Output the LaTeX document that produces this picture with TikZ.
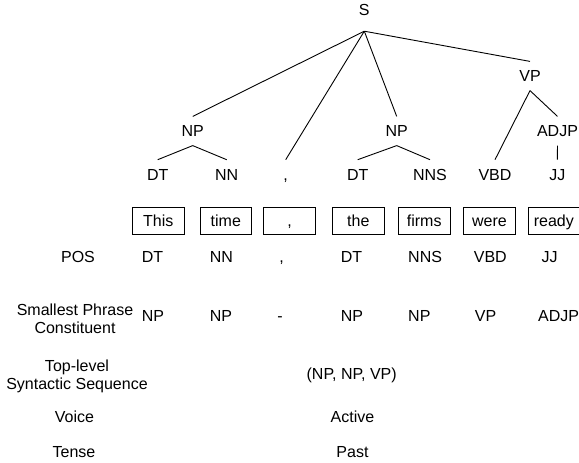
\documentclass[tikz,border=0pt]{standalone}
\usepackage{fontspec}
\setmainfont{Liberation Sans}
\begin{document}
\begin{tikzpicture}[x=1pt,y=-1pt,
  every node/.style={font=\fontsize{16}{17.7}\selectfont, inner sep=0pt},
  tn/.style={text height=11.46pt, text depth=0pt, inner xsep=1pt, inner ysep=8.67pt},
  branch/.style={line width=0.9pt},
  wordbox/.style={draw, line width=0.9pt, minimum width=51.5pt, minimum height=27.7pt, text height=11.46pt, text depth=0pt},
  val/.style={text height=11.46pt, text depth=0pt, anchor=west},
  cval/.style={text height=11.46pt, text depth=0pt},
  lab/.style={align=center}
]
\useasboundingbox (0,0) rectangle (579,463);

% parse tree
\node[tn, inner ysep=15.27pt] (S) at (364.3,10) {S};
\node[tn] (VP) at (530,76) {VP};
\node[tn] (NPa) at (192.7,131) {NP};
\node[tn] (NPb) at (396.7,131) {NP};
\node[tn] (ADJP) at (557.5,131) {ADJP};
\node[tn] (DTa) at (157.7,174.3) {DT};
\node[tn] (NN) at (226.7,174.3) {NN};
\node[tn] (CM) at (285.7,174.3) {,};
\node[tn] (DTb) at (357.7,174.3) {DT};
\node[tn] (NNS) at (430,174.3) {NNS};
\node[tn] (VBD) at (495,174.3) {VBD};
\node[tn] (JJ) at (557.3,174.3) {JJ};

\draw[branch] (S.south) -- (NPa.north);
\draw[branch] (S.south) -- (CM.north);
\draw[branch] (S.south) -- (NPb.north);
\draw[branch] (S.south) -- (VP.north);
\draw[branch] (VP.south) -- (VBD.north);
\draw[branch] (VP.south) -- (ADJP.north);
\draw[branch] (NPa.south) -- (DTa.north);
\draw[branch] (NPa.south) -- (NN.north);
\draw[branch] (NPb.south) -- (DTb.north);
\draw[branch] (NPb.south) -- (NNS.north);
\draw[branch] (ADJP.south) -- (JJ.north);

% word boxes
\node[wordbox] (w1) at (158.3,221) {This};
\node[wordbox] (w2) at (225.8,221) {time};
\node[wordbox] (w3) at (289.5,221) {,};
\node[wordbox] (w4) at (358.3,221) {the};
\node[wordbox] (w5) at (424.2,221) {firms};
\node[wordbox] (w6) at (489.5,221) {were};
\node[wordbox] (w7) at (553.8,221) {ready};

% row labels
\node[cval] (lpos) at (78,257) {POS};
\node[lab] (lspc) at (75,319) {Smallest Phrase\\Constituent};
\node[lab] (ltop) at (77,376.4) {Top-level\\Syntactic Sequence};
\node[cval] (lvoice) at (74.5,417) {Voice};
\node[cval] (ltense) at (74,452) {Tense};

% POS row
\node[val] (p1) at (141.7,257) {DT};
\node[val] (p2) at (209.7,257) {NN};
\node[cval] (p3) at (281.7,257) {,};
\node[val] (p4) at (340.7,257) {DT};
\node[val] (p5) at (408,257) {NNS};
\node[val] (p6) at (473.7,257) {VBD};
\node[val] (p7) at (541.5,257) {JJ};

% smallest phrase row
\node[val] (c1) at (141.7,316) {NP};
\node[val] (c2) at (209.7,316) {NP};
\node[cval] (c3) at (280,316) {-};
\node[val] (c4) at (340.7,316) {NP};
\node[val] (c5) at (408,316) {NP};
\node[val] (c6) at (474.7,316) {VP};
\node[val] (c7) at (538,316) {ADJP};

% sentence-level values
\node[cval] (vtop) at (351.7,373.3) {(NP, NP, VP)};
\node[cval] (vvoice) at (352.5,417) {Active};
\node[cval] (vtense) at (352.5,452) {Past};
\end{tikzpicture}
\end{document}
